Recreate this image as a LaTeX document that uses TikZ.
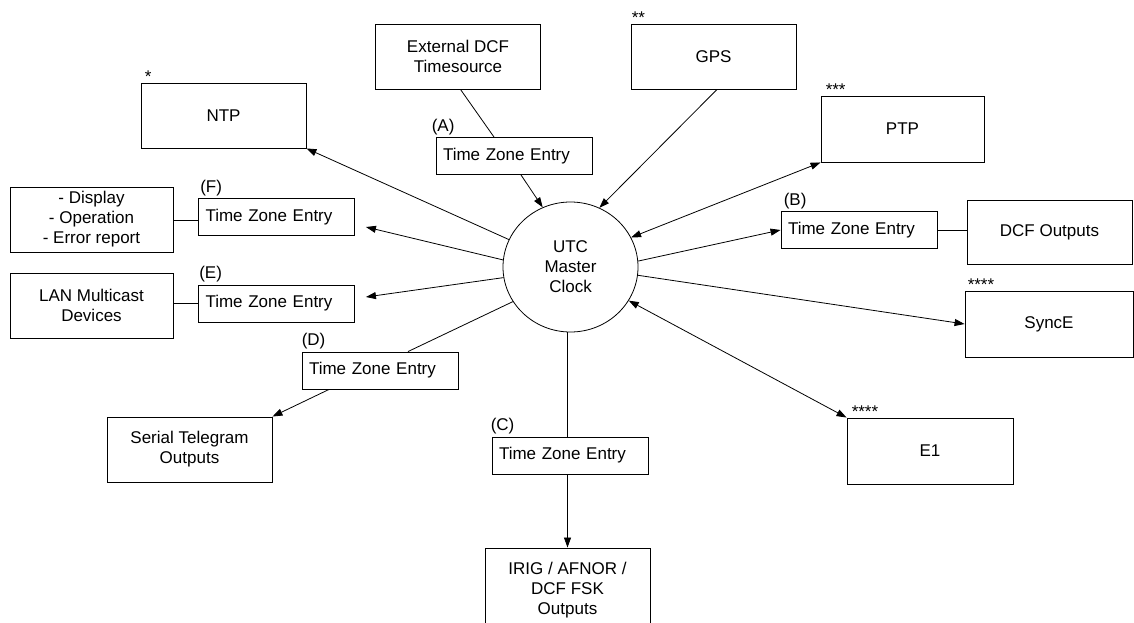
\documentclass[tikz,border=0pt]{standalone}
\usepackage{fontspec}
\setmainfont{Liberation Sans}
\usetikzlibrary{arrows.meta,shapes.geometric}
\begin{document}
\begin{tikzpicture}[x=1pt,y=-1pt,
  font=\fontsize{17}{20}\selectfont,
  box/.style={draw, line width=0.9pt, minimum width=165pt, minimum height=65pt, align=center, inner sep=0pt},
  tz/.style={draw, line width=0.9pt, minimum height=37pt, inner xsep=7pt, inner ysep=0pt, text width=142pt, align=left},
  lab/.style={anchor=south west, inner sep=0pt},
  star/.style={anchor=base west, inner sep=0pt},
  conn/.style={line width=0.8pt},
  arr/.style={conn, -{Triangle[length=10pt,width=7pt]}},
  arrb/.style={conn, {Triangle[length=10pt,width=7pt]}-{Triangle[length=10pt,width=7pt]}}
]
\useasboundingbox (0,0) rectangle (1134,623);

% centre
\node[ellipse, draw, line width=0.8pt, minimum width=135pt, minimum height=130pt, inner sep=0pt, align=center] (clock) at (570.5,267) {UTC\\Master\\Clock};

% outer boxes
\node[box] (ntp) at (223.5,115.5) {NTP};
\node[box] (ext) at (458,56.5) {External DCF\\Timesource};
\node[box] (gps) at (713.5,56.5) {GPS};
\node[box, minimum width=163pt, minimum height=66pt] (ptp) at (902.5,129) {PTP};
\node[box, minimum height=64pt] (dcf) at (1049.5,232) {DCF Outputs};
\node[box, minimum width=168pt, minimum height=66pt] (synce) at (1049,324) {SyncE};
\node[box, minimum width=166pt, minimum height=66pt] (e1) at (930,451) {E1};
\node[box, minimum height=84pt] (irig) at (567.5,590) {IRIG / AFNOR /\\DCF FSK\\Outputs};
\node[box] (serial) at (189.5,449.5) {Serial Telegram\\Outputs};
\node[box, minimum width=163pt] (lan) at (91.5,305.5) {LAN Multicast\\Devices};
\node[box, minimum width=163pt] (disp) at (91.5,219.5) {- Display\\- Operation\\- Error report};

% time zone entries
\node[tz] (tza) at (514,156) {Time Zone Entry};
\node[tz] (tzb) at (859,230) {Time Zone Entry};
\node[tz] (tzc) at (570,455.5) {Time Zone Entry};
\node[tz] (tzd) at (380,370.5) {Time Zone Entry};
\node[tz] (tze) at (276.5,303.5) {Time Zone Entry};
\node[tz] (tzf) at (276.5,217) {Time Zone Entry};

% labels
\node[lab] (la) at ([xshift=-4pt,yshift=2pt]tza.north west) {(A)};
\node[lab] (lb) at ([xshift=3pt,yshift=2pt]tzb.north west) {(B)};
\node[lab] (lc) at ([xshift=-1pt,yshift=2pt]tzc.north west) {(C)};
\node[lab] (ld) at ([xshift=0pt,yshift=2pt]tzd.north west) {(D)};
\node[lab] (le) at ([xshift=1pt,yshift=2pt]tze.north west) {(E)};
\node[lab] (lf) at ([xshift=2pt,yshift=2pt]tzf.north west) {(F)};

% stars
\node[star] (sntp) at ([xshift=4pt]ntp.north west) {*};
\node[star] (sgps) at ([xshift=1pt]gps.north west) {**};
\node[star] (sptp) at ([xshift=5pt]ptp.north west) {***};
\node[star] (ssync) at ([xshift=3pt]synce.north west) {****};
\node[star] (se1) at ([xshift=5pt]e1.north west) {****};

% connectors
\draw[arr] (clock.156.5) -- (ntp.south east);
\draw[conn] ([xshift=2.5pt]ext.south) -- ([xshift=-20pt]tza.north);
\draw[arr] ([xshift=7pt]tza.south) -- (clock.115);
\draw[arr] ([xshift=3.5pt]gps.south) -- (clock.64);
\draw[arrb] (clock.26) -- (ptp.south west);
\draw[arr] (clock.5) -- (tzb.west);
\draw[conn] (tzb.east) -- (tzb.east -| dcf.west);
\draw[arr] (clock.-7) -- (synce.west);
\draw[arrb] (clock.-30) -- (e1.north west);
\draw[conn] (clock.267) -- (clock.267 |- tzc.north);
\draw[arr] (tzc.south -| irig.north) -- (irig.north);
\draw[arr] (clock.174) -- ([xshift=11pt,yshift=-10pt]tzf.east);
\draw[conn] ([yshift=-3pt]tzf.west) -- ([yshift=-3pt]tzf.west -| disp.east);
\draw[arr] (clock.189) -- ([xshift=11pt,yshift=6.5pt]tze.east);
\draw[conn] (tze.west) -- (tze.west -| lan.east);
\draw[conn] (clock.211) -- ([xshift=28pt]tzd.north);
\draw[arr] ([xshift=-51pt]tzd.south) -- (serial.north east);
\end{tikzpicture}
\end{document}
